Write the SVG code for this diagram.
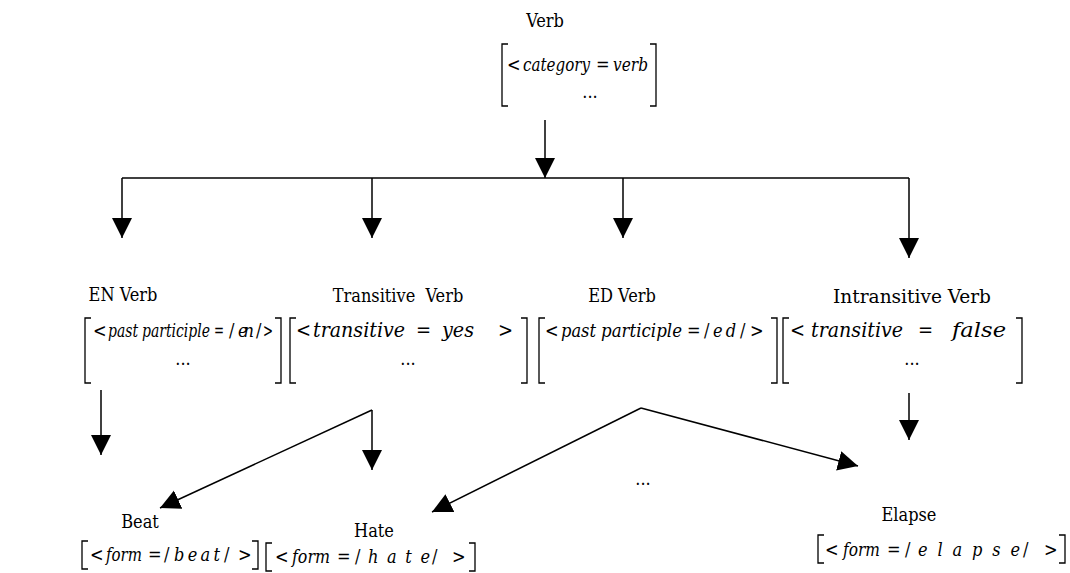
<svg xmlns="http://www.w3.org/2000/svg" width="1070" height="573" viewBox="0 0 1070 573">
<style>
text{font-family:'DejaVu Serif Condensed','DejaVu Serif','Liberation Serif',serif;font-stretch:condensed;font-size:18px;fill:#000}
.t{text-anchor:middle}
.i{font-style:italic}
.b{font-size:20px}
.br{fill:none;stroke:#000;stroke-width:1.3}
.c{fill:none;stroke:#000;stroke-width:1.5}
</style>
<defs>
<marker id="ah" markerUnits="userSpaceOnUse" markerWidth="20" markerHeight="22" refX="20" refY="10" orient="auto" viewBox="0 0 20 20">
<path d="M0,0 L20,10 L0,20 Z" fill="#000"/>
</marker>
</defs>
<rect width="1070" height="573" fill="#fff"/>
<g id="connectors">
<line class="c" x1="545" y1="120" x2="545" y2="178" marker-end="url(#ah)"/>
<polyline class="c" points="122,178 909,178"/>
<line class="c" x1="122" y1="178" x2="122" y2="238" marker-end="url(#ah)"/>
<line class="c" x1="372" y1="178" x2="372" y2="238" marker-end="url(#ah)"/>
<line class="c" x1="623" y1="178" x2="623" y2="238" marker-end="url(#ah)"/>
<line class="c" x1="909" y1="178" x2="909" y2="258" marker-end="url(#ah)"/>
<line class="c" x1="101" y1="390" x2="101" y2="455" marker-end="url(#ah)"/>
<line class="c" x1="372" y1="410" x2="160" y2="508" marker-end="url(#ah)"/>
<line class="c" x1="372" y1="410" x2="372" y2="470" marker-end="url(#ah)"/>
<line class="c" x1="641" y1="408" x2="432" y2="512" marker-end="url(#ah)"/>
<line class="c" x1="641" y1="408" x2="858" y2="466" marker-end="url(#ah)"/>
<line class="c" x1="909" y1="393" x2="909" y2="440" marker-end="url(#ah)"/>
</g>
<g id="verb">
<text class="t" x="545" y="27">Verb</text>
<path class="br" d="M508,44 H502 V106 H508 M650,44 H656 V106 H650"/>
<text x="507" y="71">&lt;</text>
<text class="i" x="523" y="71" textLength="67" lengthAdjust="spacingAndGlyphs">category</text>
<text x="596" y="71">=</text>
<text class="i" x="613" y="71" textLength="35" lengthAdjust="spacingAndGlyphs">verb</text>
<text class="t" x="590" y="98">...</text>
</g>
<g id="en-verb">
<text class="t" x="123" y="301">EN Verb</text>
<path class="br" d="M91,318 H85 V383 H91 M275,318 H281 V383 H275"/>
<text x="93" y="337">&lt;</text>
<text class="i" x="108" y="337" textLength="30" lengthAdjust="spacingAndGlyphs">past</text>
<text class="i" x="142" y="337" textLength="68" lengthAdjust="spacingAndGlyphs">participle</text>
<text x="214" y="337" textLength="10" lengthAdjust="spacingAndGlyphs">=</text>
<text x="229" y="337">/</text>
<text class="i" x="238" y="337" textLength="16" lengthAdjust="spacing">e n</text>
<text x="256" y="337">/</text>
<text x="263" y="337" textLength="10" lengthAdjust="spacingAndGlyphs">&gt;</text>
<text class="t" x="183" y="365">...</text>
</g>
<g id="transitive-verb">
<text class="t" x="398" y="302" xml:space="preserve">Transitive  Verb</text>
<path class="br" d="M296,318 H290 V383 H296 M521,318 H527 V383 H521"/>
<text class="b" x="296" y="337">&lt;</text>
<text class="i b" x="313" y="337" textLength="92" lengthAdjust="spacingAndGlyphs">transitive</text>
<text class="b" x="416" y="337">=</text>
<text class="i b" x="442" y="337" textLength="32" lengthAdjust="spacingAndGlyphs">yes</text>
<text class="b" x="498" y="337">&gt;</text>
<text class="t" x="408" y="365">...</text>
</g>
<g id="ed-verb">
<text class="t" x="622" y="302">ED Verb</text>
<path class="br" d="M545,318 H539 V383 H545 M771,318 H777 V383 H771"/>
<text x="545" y="337">&lt;</text>
<text class="i" x="561" y="337" textLength="35" lengthAdjust="spacingAndGlyphs">past</text>
<text class="i" x="601" y="337" textLength="81" lengthAdjust="spacingAndGlyphs">participle</text>
<text x="687" y="337">=</text>
<text x="704" y="337">/</text>
<text class="i" x="713" y="337" textLength="23" lengthAdjust="spacing">e d</text>
<text x="740" y="337">/</text>
<text x="750" y="337">&gt;</text>
</g>
<g id="intransitive-verb">
<text class="t" x="912" y="303" textLength="158" lengthAdjust="spacingAndGlyphs">Intransitive Verb</text>
<path class="br" d="M789,318 H783 V383 H789 M1016,318 H1022 V383 H1016"/>
<text class="b" x="790" y="337">&lt;</text>
<text class="i b" x="811" y="337" textLength="92" lengthAdjust="spacingAndGlyphs">transitive</text>
<text class="b" x="918" y="337">=</text>
<text class="i b" x="952" y="337" textLength="54" lengthAdjust="spacingAndGlyphs">false</text>
<text class="t" x="912" y="365">...</text>
</g>
<g id="beat">
<text class="t" x="140" y="528">Beat</text>
<path class="br" d="M88,541 H82 V569 H88 M252,541 H258 V569 H252"/>
<text x="90" y="561">&lt;</text>
<text class="i" x="106" y="561" textLength="36" lengthAdjust="spacingAndGlyphs">form</text>
<text x="148" y="561">=</text>
<text x="164" y="561">/</text>
<text class="i" x="174" y="561" textLength="46" lengthAdjust="spacing">b e a t</text>
<text x="224" y="561">/</text>
<text x="238" y="561">&gt;</text>
</g>
<g id="hate">
<text class="t" x="374" y="537">Hate</text>
<path class="br" d="M272,543 H266 V571 H272 M469,543 H475 V571 H469"/>
<text x="275" y="563">&lt;</text>
<text class="i" x="292" y="563" textLength="38" lengthAdjust="spacingAndGlyphs">form</text>
<text x="337" y="563">=</text>
<text x="355" y="563">/</text>
<text class="i" x="368" y="563" textLength="62" lengthAdjust="spacing">h a t e</text>
<text x="432" y="563">/</text>
<text x="452" y="563">&gt;</text>
</g>
<g id="ellipsis">
<text class="t" x="643" y="485">...</text>
</g>
<g id="elapse">
<text class="t" x="909" y="521">Elapse</text>
<path class="br" d="M824,535 H818 V563 H824 M1059,535 H1065 V563 H1059"/>
<text x="825" y="556">&lt;</text>
<text class="i" x="843" y="556" textLength="37" lengthAdjust="spacingAndGlyphs">form</text>
<text x="887" y="556">=</text>
<text x="905" y="556">/</text>
<text class="i" x="918" y="556" textLength="102" lengthAdjust="spacing">e l a p s e</text>
<text x="1023" y="556">/</text>
<text x="1044" y="556">&gt;</text>
</g>
</svg>
